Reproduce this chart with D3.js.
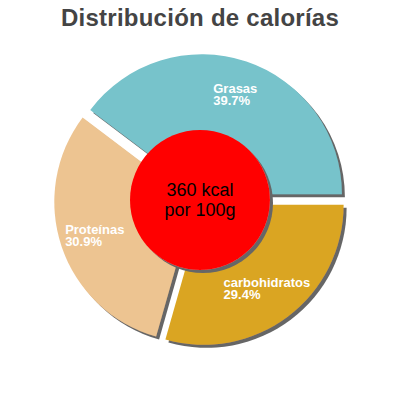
<!DOCTYPE html>
<html>
<head>
<meta charset="utf-8">
<script src="https://cdn.jsdelivr.net/npm/d3@7"></script>
<style>
  body { margin: 0; background: #fff; }
  text { font-family: "Liberation Sans", Arial, sans-serif; }
</style>
</head>
<body>
<script>
const title = "Distribución de calorías";
const names = ["Grasas", "Proteínas", "carbohidratos"];
const shares = [39.7, 30.9, 29.4];
const colours = ["#77c3cb", "#edc491", "#daa520"];
const centreLines = ["360 kcal", "por 100g"];

const w = 400, h = 400;
const cx = 200, cy = 200;
const outer = 140, inner = 70;
const explode = 6;

const svg = d3.select("body")
    .append("svg")
    .attr("width", w)
    .attr("height", h);

// drop shadow used by slices and centre disc
const defs = svg.append("defs");
const f = defs.append("filter")
    .attr("id", "shadow")
    .attr("x", "-20%").attr("y", "-20%")
    .attr("width", "140%").attr("height", "140%");
f.append("feDropShadow")
    .attr("dx", 3).attr("dy", 3)
    .attr("stdDeviation", 0.2)
    .attr("flood-color", "#666")
    .attr("flood-opacity", 1);

svg.append("text")
    .attr("x", w / 2)
    .attr("y", 26)
    .attr("text-anchor", "middle")
    .style("font-size", "24px")
    .style("letter-spacing", "0.25px")
    .style("font-weight", "bold")
    .style("fill", "#444")
    .text(title);

const data = names.map((n, i) => ({ name: n, value: shares[i], colour: colours[i] }));

// counter-clockwise from 3 o'clock
const pie = d3.pie()
    .sort(null)
    .value(d => d.value)
    .startAngle(Math.PI * 2.5)
    .endAngle(Math.PI * 0.5);

const arc = d3.arc().innerRadius(0).outerRadius(outer);
const labelArc = d3.arc().innerRadius(inner).outerRadius(outer);
const arcs = pie(data);

const g = svg.append("g")
    .attr("transform", `translate(${cx}, ${cy})`);

const shift = a => {
    const m = (a.startAngle + a.endAngle) / 2;
    return [explode * Math.sin(m), -explode * Math.cos(m)];
};

g.selectAll("path.slice")
    .data(arcs)
    .join("path")
    .attr("class", "slice")
    .attr("d", arc)
    .attr("fill", a => a.data.colour)
    .attr("filter", "url(#shadow)")
    .attr("transform", a => `translate(${shift(a)})`);

// centre disc
g.append("circle")
    .attr("r", inner)
    .attr("fill", "#ff0000")
    .attr("filter", "url(#shadow)");

g.selectAll("text.centre")
    .data(centreLines)
    .join("text")
    .attr("class", "centre")
    .attr("text-anchor", "middle")
    .attr("y", (d, i) => -4 + i * 20)
    .style("font-size", "18px")
    .style("fill", "#000")
    .text(d => d);

// slice labels: left-aligned block centred on the centroid
const labels = g.selectAll("g.label")
    .data(arcs)
    .join("g")
    .attr("class", "label");

labels.each(function (a) {
    const lg = d3.select(this);
    const [sx, sy] = shift(a);
    const [px, py] = labelArc.centroid(a);
    const l1 = lg.append("text").text(a.data.name);
    const l2 = lg.append("text").text(a.data.value.toFixed(1) + "%");
    lg.selectAll("text")
        .style("font-size", "13px")
        .style("font-weight", "bold")
        .style("fill", "#fff");
    const bw = Math.max(l1.node().getComputedTextLength(), l2.node().getComputedTextLength());
    const x0 = px + sx - bw / 2;
    const y0 = py + sy;
    l1.attr("x", x0).attr("y", y0 - 1.5);
    l2.attr("x", x0).attr("y", y0 + 10.5);
});
</script>
</body>
</html>
